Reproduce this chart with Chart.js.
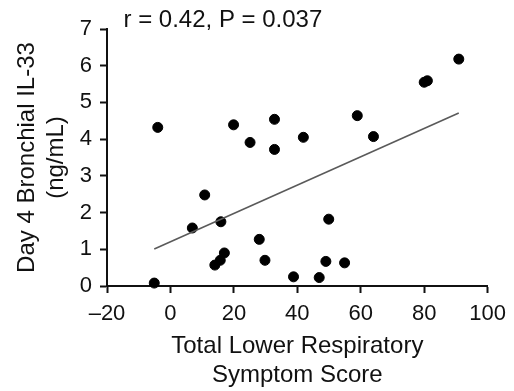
<!DOCTYPE html>
<html>
<head>
<meta charset="utf-8">
<script src="https://cdn.jsdelivr.net/npm/chart.js@4"></script>
<style>
  body { margin: 0; background: #fff; }
  #wrap { width: 514px; height: 391px; }
</style>
</head>
<body>
<div id="wrap"><canvas id="il33_chart" width="514" height="391"></canvas></div>
<script>
// symptom score vs IL-33
const symptomScore = [-5.1, -4.0, 6.9, 10.8, 14.0, 15.7, 17.0, 15.9, 19.9, 25.1, 28.0, 29.8, 32.8, 32.8,
  38.8, 41.9, 46.9, 49.0, 49.9, 54.9, 58.9, 64.0, 80.0, 81.0, 90.9];
const il33 = [0.08, 4.32, 1.58, 2.48, 0.57, 0.70, 0.90, 1.75, 4.39, 3.91, 1.27, 0.70, 4.54, 3.72,
  0.25, 4.05, 0.23, 0.67, 1.82, 0.63, 4.64, 4.07, 5.55, 5.59, 6.18];

// regression line end points
const fitX = [-5.1, 90.9];
const fitY = [1.01, 4.71];

const xTicks = [-20, 0, 20, 40, 60, 80, 100];
const yTicks = [0, 1, 2, 3, 4, 5, 6, 7];
const statText = 'r = 0.42, P = 0.037';

const FONT = '"Liberation Sans", Arial, Helvetica, sans-serif';
const INK = '#111';

const points = symptomScore.map((x, i) => ({ x: x, y: il33[i] }));
const fitLine = fitX.map((x, i) => ({ x: x, y: fitY[i] }));

const statLabel = {
  id: 'statLabel',
  afterDraw(chart) {
    const c = chart.ctx;
    c.save();
    c.font = '24px ' + FONT;
    c.fillStyle = INK;
    c.textAlign = 'left';
    c.textBaseline = 'alphabetic';
    c.fillText(statText, 123.5, 27);
    c.restore();
  }
};

const ctx = document.getElementById('il33_chart');
const myChart = new Chart(ctx, {
  type: 'scatter',
  data: {
    datasets: [{
      label: 'fit',
      type: 'line',
      data: fitLine,
      borderColor: '#5a5a5a',
      borderWidth: 1.6,
      pointRadius: 0,
      fill: false
    }, {
      label: 'subjects',
      data: points,
      backgroundColor: '#000',
      borderColor: '#000',
      pointRadius: 5,
      clip: false
    }]
  },
  options: {
    responsive: false,
    animation: false,
    events: [],
    layout: { padding: { top: 29, right: 22, left: 0, bottom: 0 } },
    plugins: {
      legend: { display: false },
      tooltip: { enabled: false }
    },
    scales: {
      x: {
        type: 'linear',
        min: xTicks[0],
        max: xTicks[xTicks.length - 1],
        afterBuildTicks: s => { s.ticks = xTicks.map(v => ({ value: v })); },
        afterFit: s => { s.height = 105; },
        border: { display: true, color: INK, width: 2 },
        grid: { drawOnChartArea: false, drawTicks: true, tickLength: 7, tickWidth: 2, tickColor: INK },
        ticks: {
          color: INK,
          padding: 8,
          font: { family: FONT, size: 22 },
          callback: v => v < 0 ? '\u2013' + Math.abs(v) : String(v)
        },
        title: {
          display: true,
          text: ['Total Lower Respiratory', 'Symptom Score'],
          color: INK,
          font: { family: FONT, size: 24, lineHeight: 1.2 },
          padding: { top: 0, bottom: 1 }
        }
      },
      y: {
        type: 'linear',
        min: yTicks[0],
        max: yTicks[yTicks.length - 1],
        afterBuildTicks: s => { s.ticks = yTicks.map(v => ({ value: v })); },
        afterFit: s => { s.width = 107; },
        border: { display: true, color: INK, width: 2 },
        grid: { drawOnChartArea: false, drawTicks: true, tickLength: 7, tickWidth: 2, tickColor: INK },
        ticks: {
          color: INK,
          padding: 8,
          font: { family: FONT, size: 22 }
        },
        title: {
          display: true,
          text: ['Day 4 Bronchial IL-33', '(ng/mL)'],
          color: INK,
          font: { family: FONT, size: 24, lineHeight: 1.2 },
          padding: { top: 13, bottom: 0 }
        }
      }
    }
  },
  plugins: [statLabel]
});
</script>
</body>
</html>
